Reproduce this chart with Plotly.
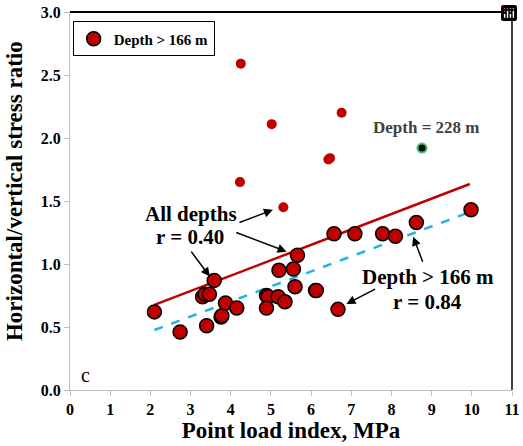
import plotly.graph_objects as go

# Depth > 166 m (outlined markers)
deep_x = [2.10, 2.74, 3.40, 3.30, 3.36, 3.47, 3.59, 3.76, 3.78, 3.87, 4.15, 4.89, 4.93, 4.89,
          5.18, 5.35, 5.20, 5.56, 5.60, 5.66, 6.11, 6.13, 6.57, 6.67, 7.09, 7.78, 8.10, 8.62, 9.98]
deep_y = [0.62, 0.46, 0.51, 0.74, 0.76, 0.76, 0.87, 0.58, 0.59, 0.69, 0.65, 0.75, 0.74, 0.65,
          0.74, 0.70, 0.95, 0.96, 0.82, 1.07, 0.79, 0.79, 1.24, 0.64, 1.24, 1.24, 1.22, 1.33, 1.43]

# Shallower points (all depths only)
shallow_x = [4.25, 5.02, 6.76, 6.43, 6.47, 4.23, 5.31]
shallow_y = [2.59, 2.11, 2.20, 1.83, 1.84, 1.65, 1.45]

# Depth = 228 m point
special_x = [8.76]
special_y = [1.92]

# Fit lines (endpoints)
all_fit_x = [2.10, 9.95]
all_fit_y = [0.675, 1.635]
deep_fit_x = [2.10, 9.91]
deep_fit_y = [0.476, 1.407]

x_ticks = list(range(0, 12))
y_ticks = [0.0, 0.5, 1.0, 1.5, 2.0, 2.5, 3.0]

SERIF = "Liberation Serif, Times New Roman, serif"
RED = "#C00000"

fig = go.Figure()

fig.add_trace(go.Scatter(x=all_fit_x, y=all_fit_y, mode="lines",
                         line=dict(color=RED, width=2.5), showlegend=False, hoverinfo="skip"))
fig.add_trace(go.Scatter(x=deep_fit_x, y=deep_fit_y, mode="lines",
                         line=dict(color="#1FB4E8", width=2.5, dash="dash"), showlegend=False,
                         hoverinfo="skip"))
fig.add_trace(go.Scatter(x=shallow_x, y=shallow_y, mode="markers",
                         marker=dict(color=RED, size=10, line=dict(width=0)), showlegend=False))
fig.add_trace(go.Scatter(x=deep_x, y=deep_y, mode="markers", name="<b>Depth > 166 m</b>",
                         marker=dict(color=RED, size=14, line=dict(color="black", width=1.5))))
fig.add_trace(go.Scatter(x=special_x, y=special_y, mode="markers",
                         marker=dict(color="black", size=9, line=dict(color="#2ECC71", width=2)),
                         showlegend=False))

annotations = []
def txt(x, y, s, size=21, color="black", bold=True):
    annotations.append(dict(x=x, y=y, xref="x", yref="y", text=("<b>%s</b>" % s) if bold else s,
                            showarrow=False, font=dict(family=SERIF, size=size, color=color)))

def arrow(tx, ty, hx, hy):
    annotations.append(dict(x=hx, y=hy, ax=tx, ay=ty, xref="x", yref="y", axref="x", ayref="y",
                            text="", showarrow=True, arrowhead=2, arrowsize=1.2, arrowwidth=1.5,
                            arrowcolor="black"))

txt(3.0, 1.40, "All depths")
txt(2.99, 1.217, "r = 0.40")
txt(8.91, 0.90, "Depth > 166 m")
txt(8.90, 0.70, "r = 0.84")
txt(8.86, 2.08, "Depth = 228 m", size=17, color="#404040")
txt(0.38, 0.12, "c", size=20, bold=False)

arrow(4.18, 1.325, 5.05, 1.43)
arrow(4.10, 1.254, 5.39, 1.098)
arrow(2.99, 1.11, 3.48, 0.90)
arrow(8.79, 1.006, 8.54, 1.217)
arrow(7.63, 0.807, 6.88, 0.683)

# y-axis title as a rotated annotation
annotations.append(dict(x=-0.127, y=0.526, xref="paper", yref="paper",
                        text="<b>Horizontal/vertical stress ratio</b>", textangle=-90,
                        showarrow=False, xanchor="center", yanchor="middle",
                        font=dict(family=SERIF, size=23, color="black")))

fig.update_layout(
    width=523, height=446,
    margin=dict(l=70, r=11, t=12, b=56),
    plot_bgcolor="white", paper_bgcolor="white",
    annotations=annotations,
    showlegend=True,
    modebar=dict(bgcolor="rgba(0,0,0,0)", color="rgba(0,0,0,0)",
                 activecolor="rgba(0,0,0,0)"),
    legend=dict(x=0.006, y=0.975, xanchor="left", yanchor="top",
                bordercolor="black", borderwidth=1, bgcolor="white",
                font=dict(family=SERIF, size=15, color="black"),
                itemwidth=30, tracegroupgap=0),
    shapes=[
        dict(type="line", xref="paper", yref="paper", x0=0, x1=1, y0=1, y1=1,
             line=dict(color="black", width=2)),
        dict(type="line", xref="paper", yref="paper", x0=1, x1=1, y0=0, y1=1,
             line=dict(color="black", width=1.5)),
    ],
)

fig.update_xaxes(range=[0, 11], tickvals=x_ticks, ticktext=["<b>%d</b>" % v for v in x_ticks],
                 automargin=False,
                 showgrid=False, zeroline=False, showline=True, linecolor="#BFBFBF", linewidth=1,
                 ticks="outside", tickcolor="#BFBFBF", ticklen=5,
                 tickfont=dict(family=SERIF, size=16, color="black"),
                 title=dict(text="<b>Point load index, MPa</b>", standoff=0,
                            font=dict(family=SERIF, size=23, color="black")))
fig.update_yaxes(range=[0, 3], tickvals=y_ticks, ticktext=["<b>%.1f</b>" % v for v in y_ticks],
                 automargin=False,
                 showgrid=False, zeroline=False, showline=True, linecolor="#BFBFBF", linewidth=1,
                 ticks="outside", tickcolor="#BFBFBF", ticklen=5,
                 tickfont=dict(family=SERIF, size=16, color="black"))

fig.write_html("out.html", post_script="document.body.style.margin='0';")
